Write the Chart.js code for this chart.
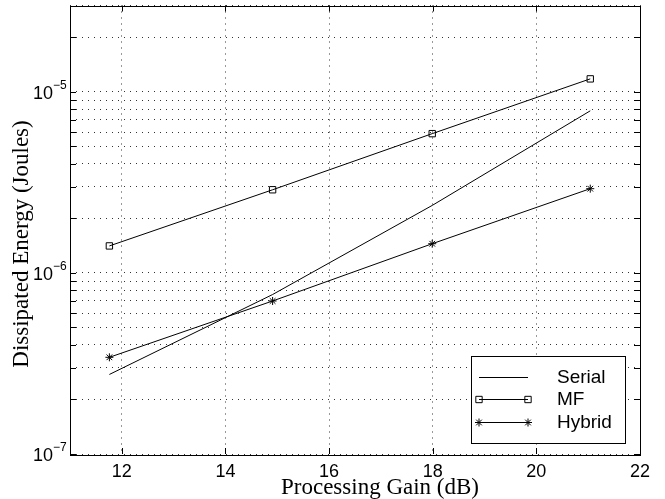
<!DOCTYPE html>
<html>
<head>
<meta charset="utf-8">
<script src="https://cdn.jsdelivr.net/npm/chart.js@4/dist/chart.umd.min.js"></script>
<style>
html, body { margin: 0; padding: 0; background: #fff; }
#wrap { width: 665px; height: 499px; }
</style>
</head>
<body>
<div id="wrap"><canvas id="energy-chart"></canvas></div>
<script>
// processing gain (dB) for each sequence length
var gainDb = [11.76, 14.91, 17.99, 21.04];
var serialEnergy = [2.75e-7, 7.6e-7, 2.36e-6, 7.86e-6];
var mfEnergy = [1.41e-6, 2.88e-6, 5.88e-6, 1.18e-5];
var hybridEnergy = [3.42e-7, 7.0e-7, 1.45e-6, 2.92e-6];

var xTicks = [12, 14, 16, 18, 20, 22];
var yTicks = [1e-7, 2e-7, 3e-7, 4e-7, 5e-7, 6e-7, 7e-7, 8e-7, 9e-7,
              1e-6, 2e-6, 3e-6, 4e-6, 5e-6, 6e-6, 7e-6, 8e-6, 9e-6,
              1e-5, 2e-5, 3e-5];
var yDecades = [1e-7, 1e-6, 1e-5];
var yExponents = ['\u22127', '\u22126', '\u22125'];

var xTitle = 'Processing Gain (dB)';
var yTitle = 'Dissipated Energy (Joules)';

function pairs(ys) {
    return gainDb.map(function (x, i) { return { x: x, y: ys[i] }; });
}

var sansFont = "'Liberation Sans', Arial, sans-serif";
var serifFont = "'Liberation Serif', 'Times New Roman', serif";

// box, inner tick marks, decade labels, axis titles and legend (matlab look)
var matlabLook = {
    id: 'matlabLook',
    afterDraw: function (chart) {
        var ctx = chart.ctx;
        var a = chart.chartArea;
        var xs = chart.scales.x;
        var ys = chart.scales.y;
        ctx.save();
        ctx.strokeStyle = '#000';
        ctx.lineWidth = 1;
        ctx.strokeRect(Math.round(a.left) + 0.5, Math.round(a.top) + 0.5,
                       Math.round(a.right - a.left), Math.round(a.bottom - a.top));

        // inner tick marks
        ctx.beginPath();
        xs.ticks.forEach(function (t) {
            var px = Math.round(xs.getPixelForValue(t.value)) + 0.5;
            ctx.moveTo(px, a.bottom); ctx.lineTo(px, a.bottom - 6);
            ctx.moveTo(px, a.top); ctx.lineTo(px, a.top + 6);
        });
        ys.ticks.forEach(function (t) {
            var py = Math.round(ys.getPixelForValue(t.value)) + 0.5;
            ctx.moveTo(a.left, py); ctx.lineTo(a.left + 6, py);
            ctx.moveTo(a.right, py); ctx.lineTo(a.right - 6, py);
        });
        ctx.stroke();

        // decade labels 10^n
        ctx.fillStyle = '#000';
        yDecades.forEach(function (v, i) {
            var py = ys.getPixelForValue(v);
            ctx.font = '18px ' + sansFont;
            ctx.textAlign = 'right';
            ctx.textBaseline = 'alphabetic';
            ctx.fillText('10', 53, py + 7);
            ctx.font = '12px ' + sansFont;
            ctx.textAlign = 'left';
            ctx.fillText(yExponents[i], 53, py - 3);
        });

        // axis titles
        ctx.font = '23px ' + serifFont;
        ctx.textAlign = 'center';
        ctx.textBaseline = 'alphabetic';
        ctx.fillText(xTitle, 380, 494);
        ctx.save();
        ctx.translate(28, 244);
        ctx.rotate(-Math.PI / 2);
        ctx.fillText(yTitle, 0, 0);
        ctx.restore();

        // legend
        var bx = 471, by = 356, bw = 154, bh = 87;
        ctx.fillStyle = '#fff';
        ctx.fillRect(bx, by, bw, bh);
        ctx.strokeRect(bx + 0.5, by + 0.5, bw, bh);
        var rows = [377, 399, 422];
        chart.data.datasets.forEach(function (ds, i) {
            var y = rows[i] + 0.5;
            ctx.strokeStyle = '#000';
            ctx.lineWidth = 1;
            ctx.beginPath();
            ctx.moveTo(479, y); ctx.lineTo(528, y);
            ctx.stroke();
            if (ds.pointRadius > 0) {
                var opts = { pointStyle: ds.pointStyle, radius: ds.pointRadius, borderWidth: 1, rotation: 0 };
                ctx.fillStyle = 'rgba(0,0,0,0)';
                Chart.helpers.drawPoint(ctx, opts, 479, y);
                Chart.helpers.drawPoint(ctx, opts, 528, y);
            }
            ctx.fillStyle = '#000';
            ctx.font = '19px ' + sansFont;
            ctx.textAlign = 'left';
            ctx.textBaseline = 'middle';
            ctx.fillText(ds.label, 557, y);
        });
        ctx.restore();
    }
};

var ctx = document.getElementById('energy-chart');
var energyChart = new Chart(ctx, {
    type: 'line',
    data: {
        datasets: [{
            label: 'Serial',
            data: pairs(serialEnergy),
            borderColor: '#000',
            borderWidth: 1,
            pointRadius: 0,
            fill: false
        }, {
            label: 'MF',
            data: pairs(mfEnergy),
            borderColor: '#000',
            backgroundColor: 'rgba(0,0,0,0)',
            borderWidth: 1,
            pointStyle: 'rect',
            pointRadius: 4.5,
            pointBorderWidth: 1,
            fill: false
        }, {
            label: 'Hybrid',
            data: pairs(hybridEnergy),
            borderColor: '#000',
            backgroundColor: 'rgba(0,0,0,0)',
            borderWidth: 1,
            pointStyle: 'star',
            pointRadius: 4,
            pointBorderWidth: 1,
            fill: false
        }]
    },
    options: {
        responsive: true,
        maintainAspectRatio: false,
        animation: false,
        layout: { padding: { top: 5, right: 25, left: 0, bottom: 0 } },
        plugins: {
            legend: { display: false },
            tooltip: { enabled: false }
        },
        scales: {
            x: {
                type: 'linear',
                min: 11,
                max: 22,
                afterBuildTicks: function (scale) {
                    scale.ticks = xTicks.map(function (v) { return { value: v }; });
                },
                afterFit: function (scale) { scale.height = 45; },
                ticks: {
                    color: '#000',
                    font: { family: sansFont, size: 18 },
                    padding: 7,
                    maxRotation: 0,
                    autoSkip: false
                },
                grid: { color: '#333', drawTicks: false },
                border: { display: false, dash: [1, 5] }
            },
            y: {
                type: 'logarithmic',
                min: 1e-7,
                max: 3e-5,
                afterBuildTicks: function (scale) {
                    scale.ticks = yTicks.map(function (v) { return { value: v }; });
                },
                afterFit: function (scale) { scale.width = 70; },
                ticks: { display: false },
                grid: { color: '#333', drawTicks: false },
                border: { display: false, dash: [1, 5] }
            }
        }
    },
    plugins: [matlabLook]
});
</script>
</body>
</html>
